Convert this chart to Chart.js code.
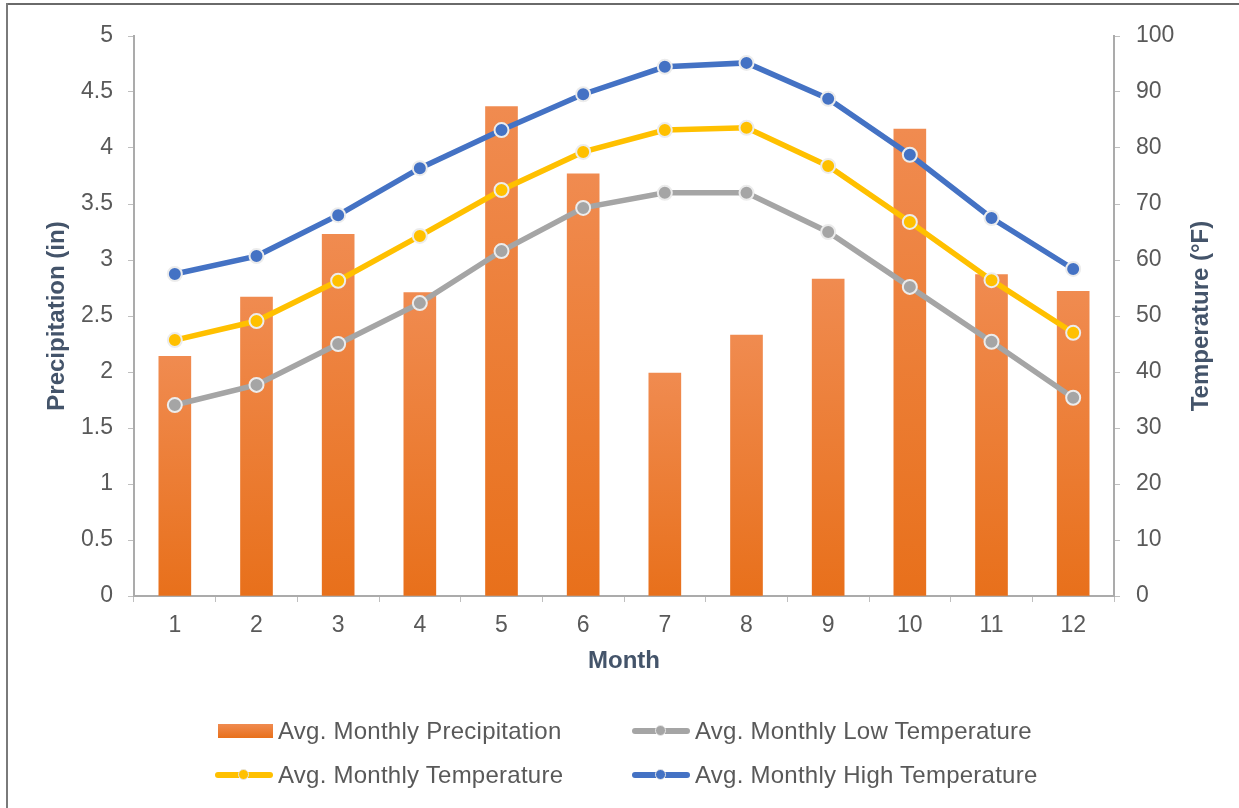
<!DOCTYPE html>
<html>
<head>
<meta charset="utf-8">
<script src="https://cdn.jsdelivr.net/npm/chart.js@4.4.1/dist/chart.umd.min.js"></script>
<style>
  html, body { margin: 0; padding: 0; background: #ffffff; }
  #wrap { position: relative; width: 1239px; height: 808px; overflow: hidden; background: #fff; }
  #chartBox { position: absolute; left: 0; top: 0; width: 1239px; height: 808px; }
  .frameTop { position: absolute; left: 6px; top: 3px; width: 1233px; height: 2px; background: #6a6a6a; }
  .frameLeft { position: absolute; left: 6px; top: 3px; width: 2px; height: 805px; background: #7a7a7a; }
  #legend { position: absolute; left: 0; top: 0; width: 1239px; height: 808px; pointer-events: none;
            font-family: 'Liberation Sans', Arial, sans-serif; font-size: 24px; letter-spacing: 0.25px; color: #595959; }
  .item { position: absolute; display: flex; align-items: center; height: 30px; white-space: nowrap; }
  .sym { position: relative; width: 58px; height: 30px; margin-right: 5px; }
  .box { position: absolute; left: 3px; top: 8px; width: 55px; height: 14px; }
  .ln { position: absolute; left: 0; top: 12px; width: 58px; height: 6px; border-radius: 3px; }
  .dot { position: absolute; left: 23px; top: 9px; width: 9px; height: 9px; border-radius: 50%; border: 1.5px solid #e6e6e6; }
</style>
</head>
<body>
<div id="wrap">
  <div id="chartBox"><canvas id="c"></canvas></div>
  <div class="frameTop"></div>
  <div class="frameLeft"></div>
  <div id="legend"></div>
</div>
<script>
// ---- data ----
const months = ['1', '2', '3', '4', '5', '6', '7', '8', '9', '10', '11', '12'];
const precipitation = [2.14, 2.67, 3.23, 2.71, 4.37, 3.77, 1.99, 2.33, 2.83, 4.17, 2.87, 2.72];
const lowTemp  = [34.1, 37.7, 45.0, 52.3, 61.6, 69.3, 72.0, 72.0, 65.0, 55.2, 45.4, 35.4];
const avgTemp  = [45.7, 49.1, 56.3, 64.3, 72.5, 79.3, 83.2, 83.6, 76.8, 66.8, 56.4, 47.0];
const highTemp = [57.5, 60.7, 68.0, 76.4, 83.2, 89.6, 94.5, 95.2, 88.8, 78.8, 67.5, 58.4];
const precipTicks = [0, 0.5, 1, 1.5, 2, 2.5, 3, 3.5, 4, 4.5, 5];
const tempTicks = [0, 10, 20, 30, 40, 50, 60, 70, 80, 90, 100];
const labels = {
  precip: 'Avg. Monthly Precipitation',
  low: 'Avg. Monthly Low Temperature',
  avg: 'Avg. Monthly Temperature',
  high: 'Avg. Monthly High Temperature',
  x: 'Month',
  yLeft: 'Precipitation (in)',
  yRight: 'Temperature (°F)'
};

const FONT = "'Liberation Sans', Arial, sans-serif";
const TICK_COLOR = '#595959';
const TITLE_COLOR = '#44546A';
const AXIS_COLOR = '#ababab';
const TICK_SIZE = 23;
const TITLE_SIZE = 24;

function barGradient(ctx) {
  const chart = ctx.chart;
  const area = chart.chartArea;
  if (!area || ctx.type !== 'data') return '#ED7D31';
  const yScale = chart.scales.y;
  const top = yScale.getPixelForValue(ctx.raw);
  const bottom = yScale.getPixelForValue(0);
  if (!isFinite(top) || !isFinite(bottom) || top === bottom) return '#ED7D31';
  const g = chart.ctx.createLinearGradient(0, top, 0, bottom);
  g.addColorStop(0, '#F08B50');
  g.addColorStop(1, '#E8701B');
  return g;
}

const lineDs = (label, data, color) => ({
  type: 'line',
  label: label,
  data: data,
  yAxisID: 'y1',
  borderColor: color,
  backgroundColor: color,
  borderWidth: 5.5,
  pointRadius: 7,
  pointHoverRadius: 7,
  pointBackgroundColor: color,
  pointBorderColor: '#ececec',
  pointBorderWidth: 2,
  tension: 0,
  order: 1,
  fill: false
});

const rightTitlePlugin = {
  id: 'rightTitle',
  afterDraw(chart) {
    const s = chart.scales.y1;
    const c = chart.ctx;
    c.save();
    c.translate(1201, (s.top + s.bottom) / 2);
    c.rotate(-Math.PI / 2);
    c.font = 'bold ' + TITLE_SIZE + 'px ' + FONT;
    c.fillStyle = TITLE_COLOR;
    c.textAlign = 'center';
    c.textBaseline = 'middle';
    c.fillText(labels.yRight, 0, 0);
    c.restore();
  }
};

const chart = new Chart(document.getElementById('c'), {
  type: 'bar',
  data: {
    labels: months,
    datasets: [
      {
        type: 'bar',
        label: labels.precip,
        data: precipitation,
        yAxisID: 'y',
        backgroundColor: barGradient,
        borderWidth: 0,
        barThickness: 32,
        order: 2
      },
      lineDs(labels.low, lowTemp, '#A5A5A5'),
      lineDs(labels.avg, avgTemp, '#FFC000'),
      lineDs(labels.high, highTemp, '#4472C4')
    ]
  },
  options: {
    responsive: true,
    maintainAspectRatio: false,
    animation: false,
    events: [],
    layout: { padding: { top: 36, right: 0, bottom: 132, left: 0 } },
    plugins: {
      legend: { display: false },
      tooltip: { enabled: false },
      title: { display: false }
    },
    scales: {
      x: {
        type: 'category',
        offset: true,
        grid: { display: true, drawOnChartArea: false, drawTicks: true, tickLength: 6, color: '#bfbfbf', offset: true },
        border: { display: true, color: AXIS_COLOR, width: 2 },
        ticks: { font: { family: FONT, size: TICK_SIZE }, color: TICK_COLOR, padding: 10, maxRotation: 0 },
        title: { display: true, text: labels.x, font: { family: FONT, size: TITLE_SIZE, weight: 'bold' }, color: TITLE_COLOR, padding: { top: 0, bottom: 0 } },
        afterFit(scale) { scale.height = 80; }
      },
      y: {
        type: 'linear',
        position: 'left',
        min: 0,
        max: 5,
        afterBuildTicks(scale) { scale.ticks = precipTicks.map(v => ({ value: v })); },
        grid: { display: true, drawOnChartArea: false, drawTicks: true, tickLength: 6, color: '#bfbfbf' },
        border: { display: true, color: AXIS_COLOR, width: 2 },
        ticks: { font: { family: FONT, size: TICK_SIZE }, color: TICK_COLOR, padding: 15, callback: v => String(v) },
        title: { display: true, text: labels.yLeft, font: { family: FONT, size: TITLE_SIZE, weight: 'bold' }, color: TITLE_COLOR, padding: { top: 43, bottom: 0 } },
        afterFit(scale) { scale.width = 134; }
      },
      y1: {
        type: 'linear',
        position: 'right',
        min: 0,
        max: 100,
        afterBuildTicks(scale) { scale.ticks = tempTicks.map(v => ({ value: v })); },
        grid: { display: true, drawOnChartArea: false, drawTicks: true, tickLength: 6, color: '#bfbfbf' },
        border: { display: true, color: AXIS_COLOR, width: 2 },
        ticks: { font: { family: FONT, size: TICK_SIZE }, color: TICK_COLOR, padding: 16, callback: v => String(v) },
        title: { display: false },
        afterFit(scale) { scale.width = 125; }
      }
    }
  },
  plugins: [rightTitlePlugin]
});

// ---- HTML legend built from the datasets ----
const legendPos = [
  { idx: 0, left: 215, top: 716 },
  { idx: 1, left: 632, top: 716 },
  { idx: 2, left: 215, top: 760 },
  { idx: 3, left: 632, top: 760 }
];
const legendEl = document.getElementById('legend');
legendPos.forEach(p => {
  const ds = chart.data.datasets[p.idx];
  const item = document.createElement('div');
  item.className = 'item';
  item.style.left = p.left + 'px';
  item.style.top = p.top + 'px';
  const sym = document.createElement('div');
  sym.className = 'sym';
  if (ds.type === 'bar') {
    const b = document.createElement('div');
    b.className = 'box';
    b.style.background = 'linear-gradient(#F08B50, #E8701B)';
    sym.appendChild(b);
  } else {
    const l = document.createElement('div');
    l.className = 'ln';
    l.style.background = ds.borderColor;
    const d = document.createElement('div');
    d.className = 'dot';
    d.style.background = ds.borderColor;
    sym.appendChild(l);
    sym.appendChild(d);
  }
  const t = document.createElement('span');
  t.textContent = ds.label;
  item.appendChild(sym);
  item.appendChild(t);
  legendEl.appendChild(item);
});
</script>
</body>
</html>
